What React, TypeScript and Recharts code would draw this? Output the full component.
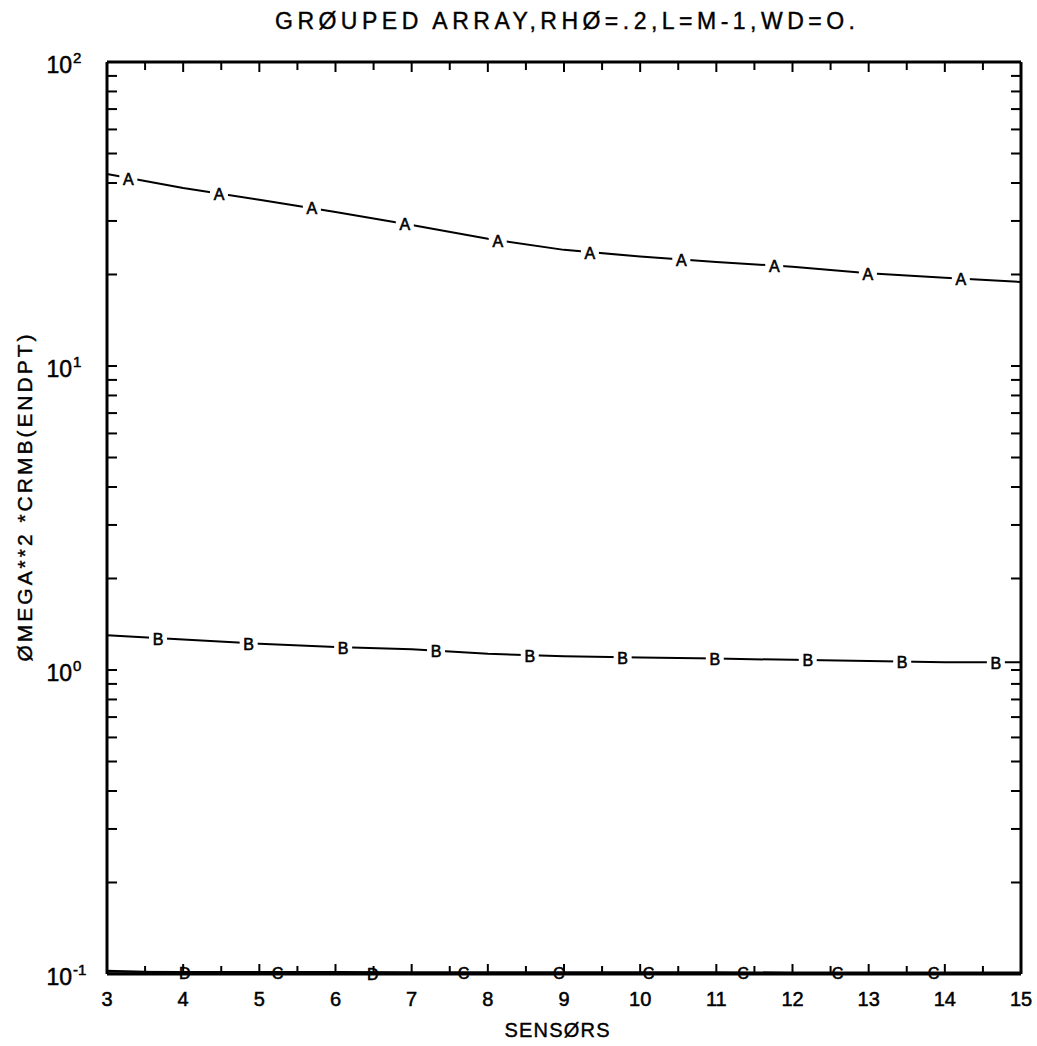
import React from 'react';
import { ComposedChart, Line, Scatter, XAxis, YAxis } from 'recharts';

// ---- axis ticks ----
const xTicks = [3, 3.5, 4, 4.5, 5, 5.5, 6, 6.5, 7, 7.5, 8, 8.5, 9, 9.5, 10, 10.5, 11, 11.5, 12, 12.5, 13, 13.5, 14, 14.5, 15];
const xLabelValues = [3, 4, 5, 6, 7, 8, 9, 10, 11, 12, 13, 14, 15];
const xLabelTexts = ['3', '4', '5', '6', '7', '8', '9', '10', '11', '12', '13', '14', '15'];
const yTicks = [
  0.1, 0.2, 0.3, 0.4, 0.5, 0.6, 0.7, 0.8, 0.9,
  1, 2, 3, 4, 5, 6, 7, 8, 9,
  10, 20, 30, 40, 50, 60, 70, 80, 90, 100,
];
const yDecades = [0.1, 1, 10, 100];
const yExponents = ['-1', '0', '1', '2'];

// ---- texts ----
const title = 'GRØUPED ARRAY,RHØ=.2,L=M-1,WD=O.';
const xTitle = 'SENSØRS';
const yTitle = 'ØMEGA**2 *CRMB(ENDPT)';

// ---- series (curves) ----
const sensors = [3, 4, 5, 6, 7, 8, 9, 10, 11, 12, 13, 14, 15];
const seriesA = [42.8, 38.5, 35.2, 32.1, 29.1, 26.2, 24.1, 22.9, 22.0, 21.2, 20.2, 19.5, 18.9];
const seriesB = [1.3, 1.26, 1.22, 1.19, 1.17, 1.13, 1.11, 1.1, 1.09, 1.08, 1.07, 1.06, 1.06];
const seriesC = [0.1018, 0.1016, 0.1015, 0.1015, 0.1014, 0.1014, 0.1013, 0.1013, 0.1013, 0.1012, 0.1012, 0.1012, 0.1012];
const seriesD = [0.1025, 0.1008, 0.1006, 0.1005, 0.1005, 0.1004, 0.1004, 0.1004, 0.1003, 0.1003, 0.1003, 0.1003, 0.1003];

// ---- symbol markers along curves ----
const markAX = [3.28, 4.47, 5.69, 6.91, 8.13, 9.34, 10.54, 11.76, 12.99, 14.21];
const markAY = [41.5, 37.0, 33.1, 29.4, 25.9, 23.7, 22.4, 21.4, 20.2, 19.4];
const markBX = [3.67, 4.86, 6.1, 7.32, 8.55, 9.77, 10.98, 12.2, 13.44, 14.67];
const markBY = [1.27, 1.225, 1.19, 1.16, 1.12, 1.1, 1.09, 1.08, 1.065, 1.06];
const markCX = [5.24, 7.68, 8.93, 10.11, 11.35, 12.59, 13.85];
const markCY = [0.1015, 0.1014, 0.1013, 0.1013, 0.1013, 0.1012, 0.1012];
const markDX = [4.02, 6.49];
const markDY = [0.1008, 0.1005];

const toPts = (xs: number[], ys: number[]) => xs.map((x, i) => ({ x, y: ys[i] }));
const lineA = toPts(sensors, seriesA);
const lineB = toPts(sensors, seriesB);
const lineC = toPts(sensors, seriesC);
const lineD = toPts(sensors, seriesD);

const FONT = '"Liberation Sans", Arial, sans-serif';

const isInt = (v: number) => Math.abs(v - Math.round(v)) < 1e-9;

const BottomTick = (props: any) => {
  const { x, y, payload } = props;
  const v = payload.value;
  const idx = xLabelValues.findIndex((d) => Math.abs(d - v) < 1e-9);
  return (
    <g>
      <line x1={x} y1={y} x2={x} y2={y - (isInt(v) ? 10 : 8)} stroke="#000" strokeWidth={2} />
      {idx >= 0 && (
        <text x={x} y={y + 25} textAnchor="middle" dominantBaseline="central" fontFamily={FONT} fontSize={20} fill="#000" stroke="#000" strokeWidth={0.5}>
          {xLabelTexts[idx]}
        </text>
      )}
    </g>
  );
};

const TopTick = (props: any) => {
  const { x, y, payload } = props;
  const v = payload.value;
  return <line x1={x} y1={y} x2={x} y2={y + (isInt(v) ? 10 : 8)} stroke="#000" strokeWidth={2} />;
};

const LeftTick = (props: any) => {
  const { x, y, payload } = props;
  const v = payload.value;
  const idx = yDecades.findIndex((d) => Math.abs(d - v) / d < 1e-6);
  return (
    <g>
      <line x1={x} y1={y} x2={x + 10} y2={y} stroke="#000" strokeWidth={2} />
      {idx >= 0 && (
        <g fontFamily={FONT} fill="#000" stroke="#000" strokeWidth={0.5}>
          <text x={x - 35} y={y + 3} textAnchor="end" dominantBaseline="central" fontSize={23}>10</text>
          <text x={x - 34} y={y - 5} textAnchor="start" dominantBaseline="central" fontSize={15}>{yExponents[idx]}</text>
        </g>
      )}
    </g>
  );
};

const RightTick = (props: any) => {
  const { x, y } = props;
  return <line x1={x} y1={y} x2={x - 10} y2={y} stroke="#000" strokeWidth={2} />;
};

const makeSymbol = (ch: string, mask: boolean) => (props: any) => {
  const { cx, cy } = props;
  if (cx == null || cy == null) return <g />;
  return (
    <g>
      {mask && <rect x={cx - 9} y={cy - 8} width={18} height={16} fill="#fff" />}
      <text x={cx} y={cy + 1} textAnchor="middle" dominantBaseline="central" fontFamily={FONT} fontSize={16} fill="#000" stroke="#000" strokeWidth={0.6}>
        {ch}
      </text>
    </g>
  );
};

export default function App() {
  return (
    <div style={{ position: 'absolute', left: 0, top: 0, width: 1037, height: 1046, background: '#fff' }}>
      <ComposedChart width={1037} height={1046} margin={{ top: 61, right: 15, bottom: 71, left: 106 }}>
        <XAxis
          xAxisId="b"
          type="number"
          dataKey="x"
          domain={[3, 15]}
          ticks={xTicks}
          interval={0}
          height={1}
          tickSize={0}
          tickMargin={0}
          tickLine={false}
          axisLine={{ stroke: '#000', strokeWidth: 3 }}
          tick={<BottomTick />}
        />
        <XAxis
          xAxisId="t"
          orientation="top"
          type="number"
          dataKey="x"
          domain={[3, 15]}
          allowDataOverflow
          ticks={xTicks}
          interval={0}
          height={1}
          tickSize={0}
          tickMargin={0}
          tickLine={false}
          axisLine={{ stroke: '#000', strokeWidth: 3 }}
          tick={<TopTick />}
        />
        <YAxis
          yAxisId="l"
          type="number"
          dataKey="y"
          scale="log"
          domain={[0.1, 100]}
          ticks={yTicks}
          interval={0}
          width={1}
          tickSize={0}
          tickMargin={0}
          tickLine={false}
          axisLine={{ stroke: '#000', strokeWidth: 3 }}
          tick={<LeftTick />}
        />
        <YAxis
          yAxisId="r"
          orientation="right"
          type="number"
          dataKey="y"
          scale="log"
          domain={[0.1, 100]}
          allowDataOverflow
          ticks={yTicks}
          interval={0}
          width={1}
          tickSize={0}
          tickMargin={0}
          tickLine={false}
          axisLine={{ stroke: '#000', strokeWidth: 3 }}
          tick={<RightTick />}
        />
        <Line xAxisId="b" yAxisId="l" data={lineA} dataKey="y" type="linear" stroke="#000" strokeWidth={2} dot={false} isAnimationActive={false} />
        <Line xAxisId="b" yAxisId="l" data={lineB} dataKey="y" type="linear" stroke="#000" strokeWidth={2} dot={false} isAnimationActive={false} />
        <Line xAxisId="b" yAxisId="l" data={lineC} dataKey="y" type="linear" stroke="#000" strokeWidth={2} dot={false} isAnimationActive={false} />
        <Line xAxisId="b" yAxisId="l" data={lineD} dataKey="y" type="linear" stroke="#000" strokeWidth={2} dot={false} isAnimationActive={false} />
        <Scatter xAxisId="b" yAxisId="l" data={toPts(markAX, markAY)} dataKey="y" shape={makeSymbol('A', true)} isAnimationActive={false} />
        <Scatter xAxisId="b" yAxisId="l" data={toPts(markBX, markBY)} dataKey="y" shape={makeSymbol('B', true)} isAnimationActive={false} />
        <Scatter xAxisId="b" yAxisId="l" data={toPts(markCX, markCY)} dataKey="y" shape={makeSymbol('C', false)} isAnimationActive={false} />
        <Scatter xAxisId="b" yAxisId="l" data={toPts(markDX, markDY)} dataKey="y" shape={makeSymbol('D', false)} isAnimationActive={false} />
        <text x={565} y={21} textAnchor="middle" dominantBaseline="central" fontFamily={FONT} fontSize={23} textLength={580} lengthAdjust="spacing" fill="#000" stroke="#000" strokeWidth={0.4}>
          {title}
        </text>
        <text x={557} y={1030} textAnchor="middle" dominantBaseline="central" fontFamily={FONT} fontSize={20} textLength={105} lengthAdjust="spacing" fill="#000" stroke="#000" strokeWidth={0.4}>
          {xTitle}
        </text>
        <text
          x={24}
          y={498}
          transform="rotate(-90 24 498)"
          textAnchor="middle"
          dominantBaseline="central"
          fontFamily={FONT}
          fontSize={21}
          textLength={327}
          lengthAdjust="spacing"
          fill="#000"
          stroke="#000"
          strokeWidth={0.4}
        >
          {yTitle}
        </text>
      </ComposedChart>
    </div>
  );
}
